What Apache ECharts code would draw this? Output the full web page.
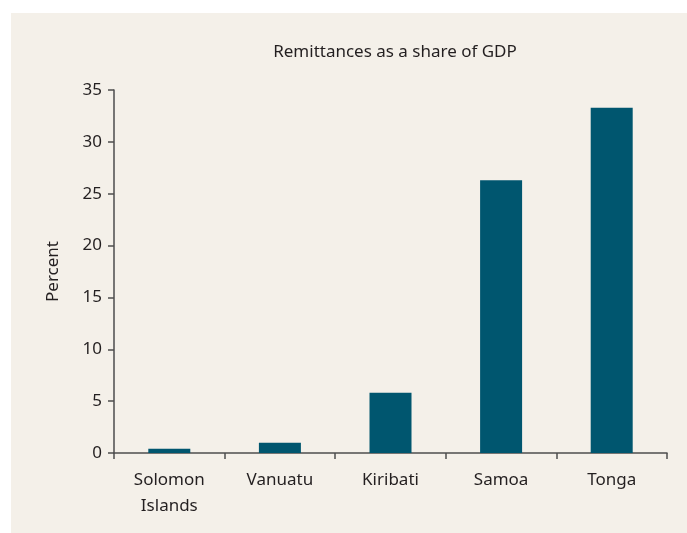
<!DOCTYPE html>
<html>
<head>
<meta charset="utf-8">
<script src="https://cdn.jsdelivr.net/npm/echarts@6/dist/echarts.min.js"></script>
<style>
  body { margin: 0; background: #fff; }
  #panel { position: absolute; left: 11px; top: 13px; width: 676px; height: 520px; background: #f4f0e9; }
  #main { position: absolute; left: 0; top: 0; width: 687px; height: 533px; }
</style>
</head>
<body>
<div id="panel"></div>
<div id="main"></div>
<script>
// 数据
const countries = ['Solomon\nIslands', 'Vanuatu', 'Kiribati', 'Samoa', 'Tonga'];
const remittanceShare = [0.4, 1.0, 5.8, 26.3, 33.3];
const yTicks = [0, 5, 10, 15, 20, 25, 30, 35];

const textColor = '#231f20';
const axisColor = '#4d4d4d';
const fontFamily = '"Noto Sans", sans-serif';

let chart = echarts.init(document.getElementById('main'));

let option = {
  backgroundColor: 'transparent',
  title: {
    text: 'Remittances as a share of GDP',
    left: 390,
    textAlign: 'center',
    top: 39,
    textStyle: { fontFamily: fontFamily, fontSize: 17, fontWeight: 'normal', color: textColor }
  },
  grid: { left: 114, right: 20, top: 90, bottom: 80 },
  xAxis: {
    type: 'category',
    data: countries,
    axisLine: { lineStyle: { color: axisColor, width: 1.5 } },
    axisTick: { show: true, length: 6, inside: false, lineStyle: { color: axisColor, width: 1.5 } },
    axisLabel: {
      fontFamily: fontFamily, fontSize: 17, color: textColor, margin: 14, lineHeight: 26
    }
  },
  yAxis: {
    type: 'value',
    min: 0,
    max: 35,
    interval: 5,
    name: 'Percent',
    nameLocation: 'middle',
    nameGap: 52,
    nameTextStyle: { fontFamily: fontFamily, fontSize: 17, color: textColor },
    axisLine: { show: true, lineStyle: { color: axisColor, width: 1.5 } },
    axisTick: { show: true, length: 6, lineStyle: { color: axisColor, width: 1.5 } },
    splitLine: { show: false },
    axisLabel: {
      fontFamily: fontFamily, fontSize: 17, color: textColor, margin: 12,
      formatter: function (v) { return yTicks.indexOf(v) >= 0 ? String(v) : ''; }
    }
  },
  series: [{
    type: 'bar',
    data: remittanceShare,
    barWidth: 42,
    itemStyle: { color: '#00566f' }
  }]
};

chart.setOption(option);
</script>
</body>
</html>
